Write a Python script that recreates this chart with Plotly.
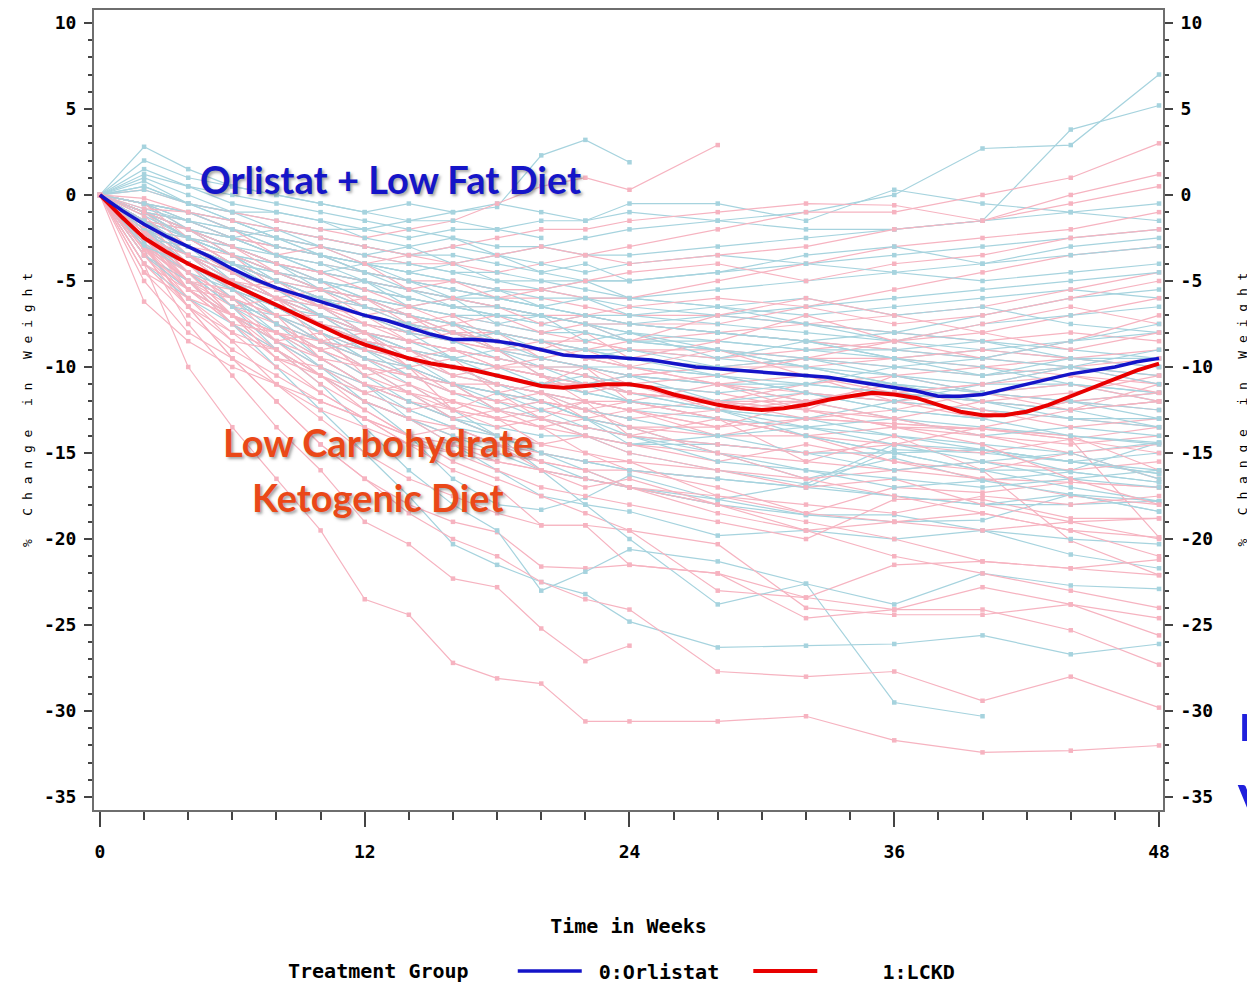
import plotly.graph_objects as go

# ---------------- data ----------------
weeks = [0, 2, 4, 6, 8, 10, 12, 14, 16, 18, 20, 22, 24, 28, 32, 36, 40, 44, 48]
N = None

# individual subjects, LCKD group (pink)
lckd_subjects = [
    [0, -4.0, -10.0, -13.5, -16.5, -19.5, -23.5, -24.4, -27.2, -28.1, -28.4, -30.6, -30.6, -30.6, -30.3, -31.7, -32.4, -32.3, -32.0],
    [0, -3.2, -7.5, -10.5, -13.5, -16.0, -19.0, -20.3, -22.3, -22.8, -25.2, -27.1, -26.2, N, N, N, N, N, N],
    [0, -2.8, -6.5, -9.5, -12.0, -14.5, -16.5, -18.0, -19.0, -19.6, -21.6, -21.7, -21.5, -22.0, -23.4, -24.1, -24.1, -25.3, -27.3],
    [0, -3.0, -6.0, -8.5, -11.0, -13.0, -15.0, -16.5, -17.5, -18.5, -19.2, -19.2, -19.5, -20.3, -24.0, -24.4, -24.4, -23.8, -24.6],
    [0, -3.0, -6.5, -9.5, -12.0, -14.5, -16.5, -18.5, -20.0, -21.0, -22.5, -23.5, -24.1, -27.7, -28.0, -27.7, -29.4, -28.0, -29.8],
    [0, -2.0, -4.5, -7.0, -9.0, -11.0, -12.5, -14.0, -15.5, -16.5, -17.5, -18.5, -19.5, -23.0, -23.4, -21.5, -21.3, -21.7, -21.2],
    [0, -2.2, -5.0, -7.5, -9.5, -11.5, -13.0, -14.5, -16.0, -17.0, -19.2, -19.2, -21.5, -22.0, -24.6, -24.1, -22.8, -23.8, -25.6],
    [0, -2.5, -4.5, -6.5, -8.5, -10.5, -12.0, -13.0, -14.5, -15.5, -16.0, -16.5, -17.0, -17.5, -18.5, -17.0, -17.3, -16.7, -17.0],
    [0, -3.5, -6.0, -8.0, -10.0, -11.5, -13.0, -14.5, -15.0, -16.0, -17.0, -17.5, -18.0, -19.0, -20.0, -17.7, -17.7, -18.8, -18.8],
    [0, -1.5, -3.5, -5.5, -7.0, -8.5, -10.0, -11.0, -12.0, -13.0, -13.5, -13.0, -13.5, -13.5, -13.0, -13.3, -13.6, -14.2, -19.9],
    [0, -2.0, -3.5, -5.0, -6.5, -8.0, -9.0, -10.0, -11.0, -11.5, -12.0, -12.5, -12.0, -13.0, -14.0, -15.5, -16.0, -20.1, -22.1],
    [0, -1.0, -2.5, -4.0, -5.0, -6.0, -7.0, -8.0, -8.5, -9.0, -9.5, -10.0, -10.5, -11.0, -11.5, -12.0, -12.5, -13.0, -13.5],
    [0, -1.5, -3.0, -4.5, -6.0, -7.0, -8.0, -9.0, -9.5, -10.0, -10.5, -11.0, -11.0, -11.5, -12.5, -13.5, -14.0, -14.5, -14.0],
    [0, -0.5, -1.5, -2.5, -3.5, -4.0, -4.5, -5.0, -5.5, -6.0, -6.0, -6.5, -7.0, -7.0, -7.5, -8.0, -8.5, -8.0, -8.5],
    [0, 0.3, -0.5, -1.0, -1.5, -2.0, -2.5, -2.0, -1.5, -0.5, 0.5, 1.0, 0.3, 2.9, N, N, N, N, N],
    [0, -1.0, -2.0, -2.5, -3.0, -3.5, -4.0, -3.5, -3.0, -2.5, -2.0, -2.0, -1.5, -1.0, -0.5, -0.6, -1.5, 0.0, 1.2],
    [0, -0.5, -1.0, -2.0, -2.5, -3.0, -3.5, -4.0, -4.0, -4.5, -4.0, -3.5, -3.0, -2.0, -1.0, -1.0, 0.0, 1.0, 3.0],
    [0, -2.0, -4.0, -5.5, -7.0, -8.0, -9.0, -9.5, -10.0, -10.5, -11.0, -11.0, -11.5, -12.0, -12.0, -11.5, -12.0, -12.5, -12.0],
    [0, -2.5, -4.5, -6.0, -7.5, -9.0, -10.5, -11.5, -12.5, -13.0, -13.5, -14.0, -14.5, -15.0, -15.5, -16.0, -15.5, -16.0, -15.5],
    [0, -3.0, -5.0, -7.0, -8.5, -10.0, -11.0, -12.0, -12.5, -13.0, -12.5, -12.0, -12.5, -12.0, -11.0, -10.5, -10.0, -9.5, -9.0],
    [0, -1.5, -2.5, -3.5, -4.5, -5.5, -6.0, -6.5, -7.0, -7.5, -8.0, -8.5, -9.0, -9.5, -9.0, -8.5, -8.0, -7.0, -6.0],
    [0, -2.0, -3.0, -4.0, -5.0, -6.0, -6.5, -7.5, -8.0, -8.0, -8.5, -9.0, -8.5, -8.0, -7.5, -7.0, -6.5, -5.5, -4.5],
    [0, -1.0, -2.0, -3.0, -4.0, -5.0, -5.5, -6.0, -6.5, -6.5, -7.0, -7.0, -7.5, -7.5, -6.5, -5.5, -4.5, -3.5, -3.0],
    [0, -3.0, -5.5, -7.5, -9.0, -10.5, -12.0, -13.0, -14.0, -14.5, -15.0, -15.5, -15.5, -16.0, -16.5, -16.0, -16.5, -16.7, -17.0],
    [0, -2.0, -3.5, -5.0, -6.0, -7.0, -8.0, -8.5, -9.0, -9.5, -10.0, -10.0, -10.5, -10.0, -10.0, -9.5, -10.0, -10.5, -11.0],
    [0, -1.5, -3.0, -4.5, -5.5, -6.5, -7.5, -8.0, -8.5, -9.0, -9.0, -9.5, -9.5, -10.0, N, N, N, N, N],
    [0, -4.5, -7.0, -9.0, -10.5, -12.0, -13.0, -14.0, -15.0, N, N, N, N, N, N, N, N, N, N],
    [0, -6.2, -8.5, -10.0, -11.0, -12.5, -13.5, -14.5, -15.0, -15.5, -16.0, -16.5, -17.0, -18.0, -19.0, -20.0, -21.3, -21.7, -22.1],
    [0, -3.5, -5.5, -7.0, -8.0, -9.0, -10.0, -10.5, -11.0, -11.0, -11.5, -12.0, -12.0, -13.0, -14.0, -13.5, -13.6, -14.2, -13.5],
    [0, -1.0, -1.5, -2.5, -3.0, -3.5, -4.5, -5.0, -5.0, -5.5, -5.5, -6.0, -6.0, -5.0, -4.0, -3.0, -2.5, -2.0, -1.0],
    [0, -2.0, -4.0, -6.0, -7.5, -8.5, -9.5, -10.5, -11.5, -12.0, -12.5, -13.0, -13.5, -14.0, -14.0, -14.5, -15.0, -14.2, -15.0],
    [0, -2.5, -4.0, -5.5, -6.5, -7.5, -8.5, -9.0, -9.5, -10.0, -10.0, -10.5, -11.0, -12.0, -13.0, -13.3, -13.6, -14.0, -16.0],
    [0, -1.5, -3.5, -5.0, -6.5, -7.5, -8.5, -9.5, -10.0, -10.5, -11.0, -11.0, -10.5, -10.0, -9.5, -10.0, -10.5, -10.0, -10.5],
    [0, -3.0, -5.0, -6.5, -7.5, -8.5, -9.5, -10.0, -11.0, -11.5, -12.0, -12.5, -13.0, N, N, N, N, N, N],
    [0, -0.5, -2.0, -3.0, -4.0, -4.5, -5.0, -5.5, -6.0, -6.5, -7.0, -7.5, -7.5, -8.0, -8.5, -9.0, -9.5, -10.0, -11.0],
    [0, -2.5, -5.0, -7.0, -8.5, -9.5, -11.0, -12.0, -13.0, -14.0, -14.5, -15.0, -16.0, -17.0, -18.5, -19.0, -19.5, -19.0, -18.8],
    [0, -5.0, -8.0, -9.5, -11.0, -12.0, -13.0, -14.0, -14.5, -15.0, -15.5, -16.0, -16.0, -16.5, N, N, N, N, N],
    [0, -1.0, -2.5, -4.0, -5.0, -5.5, -6.5, -7.0, -7.5, -8.0, -8.5, -8.5, -9.0, -9.0, -9.5, -9.5, -9.0, -9.5, -10.0],
    [0, -2.0, -3.5, -4.5, -5.5, -6.5, -7.0, -7.5, -8.0, N, N, N, N, N, N, N, N, N, N],
    [0, -1.5, -3.0, -4.0, -5.0, N, N, N, N, N, N, N, N, N, N, N, N, N, N],
    [0, -2.0, -5.5, -6.0, -8.5, -8.0, -10.5, -10.0, -12.5, -11.5, -13.0, -12.0, -14.0, -13.0, -15.5, -14.0, -16.0, -15.0, -14.5],
    [0, -3.0, -4.0, -6.5, -6.0, -8.5, -8.0, -10.0, -9.5, -11.5, -11.0, -10.0, -12.0, -11.0, -12.5, -10.5, -11.5, -12.5, -11.0],
    [0, -1.0, -3.0, -3.5, -5.5, -6.5, -6.0, -7.5, -7.0, -8.5, -9.0, -8.0, -9.5, -8.5, -7.0, -8.5, -7.5, -6.5, -7.5],
    [0, -4.0, -6.5, -8.5, -9.0, -10.5, -11.5, -11.0, -12.5, -13.5, -13.0, -14.0, -14.5, -15.5, -14.5, -15.5, -16.5, -17.5, -18.0],
    [0, -2.5, -3.0, -4.5, -6.0, -5.5, -7.0, -8.5, -8.0, -9.0, -10.5, -11.5, -11.0, -12.5, -11.5, -12.0, -13.0, -12.0, -12.5],
    [0, -0.5, -2.5, -3.0, -4.5, -5.0, -6.5, -7.0, -8.5, -8.0, -9.5, -9.0, -10.0, -11.0, -10.5, -11.5, -11.0, -10.0, -9.5],
    [0, -3.5, -5.0, -5.5, -7.5, -9.0, -8.5, -10.0, -11.5, -12.0, -11.5, -13.0, -12.5, -13.5, -12.0, -11.0, -12.5, -13.5, -13.0],
    [0, -1.5, -4.0, -5.5, -5.0, -6.0, -7.5, -8.0, -7.5, -9.0, -8.5, -9.5, -10.0, -9.0, -10.5, -12.0, -11.5, -12.0, -11.5],
    [0, -2.0, -2.5, -4.0, -5.0, -6.5, -7.0, -6.5, -7.5, -7.0, -8.0, -7.5, -8.5, -7.0, -6.0, -7.0, -8.0, -9.0, -8.0],
    [0, -4.5, -6.0, -7.0, -9.5, -10.0, -11.5, -12.5, -12.0, -13.0, -14.5, -14.0, -15.0, -16.0, -17.0, -16.5, -18.0, -19.0, -20.0],
    [0, -2.8, -5.0, -6.0, -7.0, -9.5, -10.0, -11.5, -13.0, -12.5, -13.5, -15.0, -15.5, -17.5, -18.0, -18.5, -17.5, -18.0, -17.5],
    [0, -0.8, -1.0, -2.0, -3.5, -3.0, -4.0, -5.5, -5.0, -6.0, -5.5, -5.0, -4.5, -4.0, -5.0, -4.0, -3.5, -2.5, -2.0],
    [0, -1.2, -3.5, -4.5, -6.0, -7.5, -8.0, -9.5, -9.0, -10.0, -10.5, -12.0, -12.5, -14.0, -13.0, -12.5, -11.5, -11.0, -12.0],
    [0, -3.0, -4.5, -6.0, -7.0, -7.0, -8.5, -9.0, -10.5, -10.0, -9.5, -10.0, -11.0, -10.5, -9.5, -8.5, -9.5, -8.5, -7.0],
    [0, -2.0, -4.5, -7.0, -9.5, -10.5, -12.5, -14.0, -13.5, -14.5, -16.0, -17.0, -16.5, -18.0, -19.5, -21.0, -22.0, -23.0, -24.0],
    [0, -1.5, -2.0, -3.0, -4.0, -4.5, -5.5, -6.5, -6.0, -6.5, -7.5, -7.0, -6.5, -6.0, -6.5, -7.5, -7.0, -6.0, -5.0],
    [0, -2.5, -5.5, -7.5, -8.0, -9.0, -10.0, -10.5, -11.0, -12.5, -12.0, -12.5, -13.0, -12.5, -12.0, -13.0, -14.0, -15.0, -16.5],
    [0, -3.2, -5.5, -7.0, -8.0, -9.5, -11.0, -11.5, -12.0, -12.5, -13.0, -13.5, -14.0, -14.5, -15.0, -14.5, -13.5, -12.5, -12.0],
    [0, -1.8, -3.0, -4.5, -6.0, -6.5, -7.5, -8.5, -9.0, -9.5, -10.0, -10.5, -11.5, -12.0, -12.5, -13.0, -12.0, -11.5, -10.5],
    [0, -0.2, -1.0, -1.5, -2.0, -2.5, -3.0, -3.5, -4.0, -3.5, -3.0, -3.5, -4.0, -3.5, -3.0, -2.0, -1.5, -0.5, 0.5],
    [0, -2.2, -4.0, -5.0, -6.0, -7.5, -8.5, -9.0, -10.0, -11.0, -11.5, -12.5, -13.5, -15.0, -16.5, -17.5, -18.5, -19.5, -21.0],
    [0, -4.0, -5.5, -7.0, -8.0, -8.5, -9.0, -9.5, -10.5, -11.0, -11.5, -12.0, -12.5, -13.5, N, N, N, N, N],
    [0, -1.0, -2.0, -3.5, -4.5, -5.5, -6.0, -7.0, -8.0, -8.5, -9.0, -9.5, -10.0, -11.0, -12.0, -11.5, -11.0, -10.5, -11.5],
    [0, -2.5, -3.5, -5.0, -5.5, -6.5, -8.0, -8.5, -9.0, -10.0, -10.5, -11.0, -11.5, -12.0, -12.5, -13.5, -14.5, -16.5, -18.0],
    [0, -3.5, -6.5, -8.0, -9.0, -10.5, -12.0, -13.0, -13.5, -14.5, -15.5, -16.0, -17.0, -18.5, -19.5, -19.0, -18.5, -19.5, -19.9],
]

# individual subjects, Orlistat group (light blue)
orlistat_subjects = [
    [0, 2.8, 1.5, 0.5, 0.0, -0.5, -1.0, -0.5, -1.0, -0.7, 2.3, 3.2, 1.9, N, N, N, N, N, N],
    [0, -2.0, -4.0, -6.0, -8.0, -10.0, -12.0, -14.0, -16.5, -18.0, -18.3, -17.6, -16.3, -17.7, -16.8, -14.5, -14.8, -15.5, -16.2],
    [0, -2.5, -5.0, -7.5, -10.0, -12.5, -15.0, -17.5, -20.3, -21.5, -22.5, -23.2, -24.8, -26.3, -26.2, -26.1, -25.6, -26.7, -26.1],
    [0, -2.0, -4.5, -6.5, -9.0, -11.0, -13.5, -16.0, -18.0, -19.5, -23.0, -21.9, -20.6, -21.3, -22.6, -29.5, -30.3, N, N],
    [0, -1.5, -3.5, -5.5, -7.5, -9.5, -11.0, -13.0, -14.5, -16.0, -17.5, -18.0, -18.4, -19.8, -19.5, -20.0, -19.5, -20.9, -21.7],
    [0, -1.5, -3.0, -5.0, -7.0, -8.5, -10.0, -11.5, -13.0, -14.0, -15.0, -16.0, -17.0, -17.7, -18.6, -19.0, -18.9, -17.4, -17.8],
    [0, -2.0, -3.5, -5.0, -6.5, -8.0, -9.5, -11.0, -12.5, -14.0, -16.0, -18.0, -20.0, -23.8, -22.6, -23.8, -22.0, -22.7, -22.9],
    [0, -1.0, -2.5, -4.0, -5.5, -7.0, -8.0, -9.0, -10.0, -11.0, -12.0, -13.0, -14.0, -15.0, -16.5, -15.3, -16.6, -16.1, -16.7],
    [0, -1.0, -2.0, -3.0, -4.0, -5.0, -6.0, -7.0, -8.0, -9.0, -10.0, -11.0, -12.0, -13.0, -14.0, -15.0, -16.0, -16.0, -14.4],
    [0, 0.5, -0.5, -1.0, -2.0, -2.5, -3.0, -3.5, -3.0, -3.5, -3.0, -2.5, -2.0, -1.5, -1.0, 0.0, 2.7, 2.9, 7.0],
    [0, 1.5, 0.5, -0.5, -1.0, -1.5, -2.0, -2.5, -2.0, -2.0, -1.5, -1.5, -1.0, -1.5, -2.0, -2.0, -1.5, 3.8, 5.2],
    [0, 1.0, 0.0, -1.0, -1.5, -2.0, -2.0, -1.5, -1.0, -0.5, -1.0, -1.5, -0.5, -0.5, -1.5, 0.3, -0.5, -1.0, -1.5],
    [0, -0.5, -1.0, -1.5, -2.5, -3.0, -3.5, -4.0, -4.5, -5.0, -5.0, -5.5, -6.0, -6.5, -7.0, -6.5, -6.0, -5.5, -6.0],
    [0, -1.0, -2.0, -3.0, -4.0, -4.5, -5.0, -5.5, -6.0, -6.0, -6.5, -7.0, -7.5, -8.0, -8.5, -9.0, -8.5, -9.0, -9.5],
    [0, -1.5, -3.0, -4.5, -6.0, -7.0, -8.0, -9.0, -10.0, -10.5, -11.0, -11.5, -12.0, -12.5, -13.0, -14.0, -14.8, -15.5, -16.2],
    [0, -2.0, -3.5, -5.0, -6.0, -7.0, -8.0, -8.5, -9.0, -9.5, -10.0, -10.0, -10.5, -11.0, -11.0, -11.5, -12.0, -12.5, -12.0],
    [0, -0.5, -1.5, -2.0, -3.0, -3.5, -4.0, -4.5, -5.0, -5.5, -5.5, -6.0, -6.0, -5.5, -5.0, -4.5, -4.0, -3.0, -2.5],
    [0, -1.0, -2.5, -3.5, -4.5, -5.5, -6.5, -7.0, -7.5, -8.0, -8.5, -9.0, -9.0, -9.5, -10.0, -10.5, -11.0, -11.0, -11.5],
    [0, -2.5, -4.5, -6.5, -8.0, -9.5, -11.0, -12.5, -13.5, -14.5, -15.5, -16.5, -17.0, -18.0, -18.6, -18.6, -19.5, -20.0, -20.3],
    [0, -3.0, -5.0, -7.0, -8.5, -10.0, -11.5, -12.5, -13.5, -14.0, -15.0, -15.5, -16.0, -16.5, -17.0, -14.8, -15.0, -15.5, -15.0],
    [0, -0.5, -1.5, -2.5, -3.0, -3.5, -4.0, -4.0, -4.5, -4.5, -5.0, -5.0, -5.0, -4.5, -4.0, -3.5, -3.0, -2.5, -2.0],
    [0, 1.2, 0.5, 0.0, -0.5, -1.0, -1.5, -2.0, -2.5, -3.0, -3.0, -3.5, -3.5, -3.0, -2.5, -2.0, -1.5, -1.0, -0.5],
    [0, -1.5, -2.5, -3.5, -4.5, -5.5, -6.0, -6.5, -7.0, -7.5, -8.0, -8.0, -8.5, -8.5, -9.0, -9.5, -9.0, -8.5, -8.0],
    [0, -2.0, -3.0, -4.0, -5.0, -6.0, -7.0, -7.5, -8.0, -8.5, -9.0, -9.5, -10.0, -10.5, -11.5, -12.0, -12.5, -13.0, -13.5],
    [0, -1.0, -2.0, -3.5, -5.0, -6.5, -8.0, -9.5, -11.0, -12.0, -13.0, -14.0, -15.0, -16.0, -16.8, -17.5, -18.0, -17.4, -18.4],
    [0, -4.0, -6.0, -7.5, -9.0, -10.5, -12.0, -13.0, -14.0, -15.0, -16.0, -16.5, -17.0, -18.0, N, N, N, N, N],
    [0, -0.5, -1.0, -1.5, -2.0, -2.5, -3.0, -3.5, -3.5, -4.0, -4.5, -5.0, -5.0, N, N, N, N, N, N],
    [0, -1.5, -2.5, -3.5, -4.0, -4.5, -5.0, -5.5, -6.0, -6.5, -7.0, -7.5, -8.0, -9.0, -10.0, -11.0, -11.5, -11.0, -12.0],
    [0, -2.0, -3.5, -5.0, -6.5, -8.0, -9.5, -10.5, -11.5, -12.5, -13.0, -13.5, -14.0, -14.5, -15.0, -15.0, -14.8, -15.5, -16.0],
    [0, -1.0, -1.5, -2.5, -3.5, -4.0, -4.5, -5.0, -5.5, -6.0, -6.5, -7.0, -7.0, -7.5, -8.0, -8.5, -9.0, -9.5, -9.5],
    [0, -3.5, -5.5, -7.0, -8.5, -10.0, -11.0, -12.0, -13.0, -13.5, -14.0, -14.0, -14.5, -14.5, -15.0, -15.0, -14.8, -16.1, -16.7],
    [0, -1.0, -2.5, -4.0, -5.0, -6.0, -7.0, -7.5, -8.0, -9.0, -9.5, -10.0, -10.5, -11.0, -12.0, -13.0, -13.5, -14.0, -14.4],
    [0, -2.0, -3.0, -4.0, -4.5, -5.0, -5.5, -6.0, -6.5, -7.0, -7.0, -7.5, -7.5, -7.0, -6.5, -6.0, -5.5, -5.0, -4.5],
    [0, 0.5, -0.5, -1.5, -2.5, -3.5, -4.0, -4.5, -5.0, -5.5, -6.0, -6.0, -6.5, -7.0, -7.5, -8.0, -8.5, -9.5, -10.0],
    [0, -1.5, -3.0, -4.0, -5.0, -5.5, -6.0, -6.5, -7.0, -7.0, N, N, N, N, N, N, N, N, N],
    [0, -2.5, -4.0, -5.5, -7.0, -8.0, -9.0, -9.5, -10.5, -11.0, -11.5, -12.0, -12.5, -13.0, -13.5, -14.0, -14.5, -15.0, -14.4],
    [0, -1.0, -2.0, -3.0, -3.5, -4.5, -5.0, -5.5, -6.0, -6.5, -7.0, -7.5, -8.0, -8.5, -9.0, -9.0, -9.5, -10.0, -10.5],
    [0, -2.0, -4.0, -6.0, -7.5, -9.0, -10.5, -12.0, -13.0, -14.0, -15.0, -15.5, -16.0, -16.5, -17.0, -17.5, -18.0, -18.0, -17.8],
    [0, 2.0, 1.0, 0.5, 0.0, -0.5, -1.0, -1.5, -1.5, -2.0, -2.5, N, N, N, N, N, N, N, N],
    [0, -1.0, -2.0, -3.0, N, N, N, N, N, N, N, N, N, N, N, N, N, N, N],
    [0, -1.5, -2.0, -3.5, -4.0, -5.5, -5.0, -6.5, -6.0, -7.5, -7.0, -8.5, -8.0, -9.5, -8.5, -9.5, -10.5, -9.5, -10.0],
    [0, -2.5, -3.5, -4.5, -6.0, -6.5, -8.0, -8.5, -9.5, -9.0, -10.5, -11.0, -10.5, -12.0, -11.5, -12.5, -13.0, -12.0, -11.5],
    [0, -0.5, -2.0, -2.5, -3.5, -4.5, -4.0, -5.0, -6.0, -5.5, -6.5, -6.0, -7.0, -6.5, -7.5, -8.5, -7.5, -7.0, -6.5],
    [0, -3.0, -4.5, -6.5, -7.0, -8.5, -9.0, -10.5, -11.0, -12.5, -12.0, -13.0, -14.5, -14.0, -15.0, -16.0, -15.5, -16.5, -17.0],
    [0, -1.0, -1.5, -2.5, -2.0, -3.0, -3.5, -3.0, -4.0, -3.5, -4.5, -4.0, -5.0, -4.5, -3.5, -3.0, -4.0, -3.5, -3.0],
    [0, -2.0, -3.5, -4.0, -5.5, -7.0, -7.5, -8.0, -9.5, -10.0, -11.0, -10.5, -11.5, -12.5, -13.5, -13.0, -14.0, -13.5, -14.0],
    [0, 0.8, -0.5, -1.5, -2.5, -3.0, -4.0, -4.5, -4.0, -5.0, -5.5, -5.0, -6.0, -6.5, -6.0, -7.0, -6.5, -7.5, -8.0],
    [0, -1.8, -3.0, -4.5, -5.5, -6.0, -7.0, -7.5, -8.5, -8.0, -9.0, -9.5, -9.0, -10.0, -9.5, -10.5, -11.5, -12.0, -12.5],
    [0, -3.5, -5.0, -6.0, -7.5, -8.5, -9.5, -10.0, -11.0, -11.5, -12.0, -13.0, -13.5, -15.0, -16.0, -17.0, -16.6, -17.4, -18.4],
    [0, -0.8, -1.5, -2.0, -3.0, -3.5, -4.5, -5.5, -6.5, -7.0, -7.5, -8.0, -8.5, -9.0, -10.0, -11.0, -12.0, -13.0, -13.0],
    [0, -2.2, -4.0, -5.0, -6.0, -7.5, -8.5, -9.0, -9.5, -10.5, -11.0, -11.5, -12.0, -12.5, -13.0, -12.0, -11.0, -10.0, -9.0],
    [0, -1.2, -2.5, -3.0, -4.0, -5.0, -5.5, -6.0, -6.5, -7.0, -7.5, -7.0, -7.5, -8.0, -8.5, -8.0, -7.0, -6.0, -5.5],
    [0, -2.8, -4.5, -5.5, -6.5, -7.5, -8.0, -9.0, -9.5, -10.0, -10.5, -11.0, -11.5, -12.5, -14.0, -15.0, -16.0, -17.0, -17.8],
    [0, 0.3, -0.5, -1.0, -1.0, -1.5, -2.5, -3.0, -2.5, -3.5, -4.0, -4.5, -4.0, -3.5, -4.0, -4.5, -5.0, -4.5, -4.0],
    [0, -1.5, -3.5, -5.0, -6.5, -7.5, -9.0, -10.0, -11.0, -11.5, -12.5, -13.5, -14.0, -15.5, -16.0, -16.5, -17.0, -16.5, -16.0],
    [0, -2.0, -2.5, -3.5, -4.5, -5.0, -6.0, -7.0, -7.5, -8.0, -8.5, -9.0, -9.5, -10.0, -10.5, -11.0, -11.5, -12.0, -13.0],
    [0, -1.0, -2.5, -3.5, -5.0, -6.0, -7.0, -8.0, -8.5, -9.5, -10.0, -10.5, -11.0, -11.5, -11.0, -11.5, -12.0, -12.5, -13.5],
    [0, -3.0, -4.0, -5.5, -6.5, -7.0, -8.5, -9.5, -10.0, -11.0, -11.5, -12.5, -13.0, -14.0, -13.5, -14.5, -15.5, -15.0, -16.5],
    [0, -0.5, -1.0, -2.0, -2.5, -3.5, -4.5, -5.0, -5.5, -6.0, -6.5, -7.0, -7.5, -8.0, -8.5, -9.5, -10.0, -11.0, -11.5],
    [0, -1.5, -3.0, -4.0, -4.5, -5.5, -6.5, -7.5, -8.0, -8.5, -9.5, -10.0, -10.0, -10.5, -11.5, -12.5, -13.0, -14.0, -14.5],
    [0, -2.5, -3.0, -4.0, -5.0, -6.0, -6.5, -7.0, -7.5, -8.5, -9.0, -9.0, -9.5, -10.5, -11.0, -10.0, -9.5, -8.5, -7.5],
    [0, -1.0, -2.0, -2.5, -3.5, -4.0, -5.0, -6.0, -6.5, -6.5, -7.0, -7.5, -8.5, -9.0, -9.5, -10.0, -10.5, -10.0, -11.0],
]

# smoothed group means (weekly)
mean_weeks = list(range(0, 49))
mean_orlistat = [0.0, -0.9, -1.7, -2.4, -3.0, -3.6, -4.3, -4.9, -5.4, -5.8, -6.2, -6.6, -7.0,
                 -7.3, -7.7, -8.1, -8.4, -8.4, -8.5, -8.7, -9.0, -9.3, -9.4, -9.4, -9.5,
                 -9.6, -9.8, -10.0, -10.1, -10.2, -10.3, -10.4, -10.5, -10.6, -10.8, -11.0, -11.2,
                 -11.4, -11.7, -11.7, -11.6, -11.3, -11.0, -10.7, -10.4, -10.2, -10.0, -9.7, -9.5]
mean_lckd = [0.0, -1.3, -2.5, -3.3, -4.0, -4.6, -5.2, -5.8, -6.4, -7.0, -7.6, -8.2, -8.7,
             -9.1, -9.5, -9.8, -10.0, -10.2, -10.5, -10.8, -11.1, -11.2, -11.1, -11.0, -11.0,
             -11.2, -11.6, -11.9, -12.2, -12.4, -12.5, -12.4, -12.2, -11.9, -11.7, -11.5, -11.6,
             -11.8, -12.2, -12.6, -12.8, -12.8, -12.6, -12.2, -11.7, -11.2, -10.7, -10.2, -9.8]

x_ticks = [0, 12, 24, 36, 48]
y_ticks = [10, 5, 0, -5, -10, -15, -20, -25, -30, -35]
NB = "\u00a0"
group_names = [NB + "0:Orlistat" + NB * 2, NB * 5 + "1:LCKD"]

# ---------------- styling ----------------
PINK = "#F6B3C0"
LBLUE = "#A6D3DE"
MONO = "DejaVu Sans Mono"

# page body has an 8px margin: figure 1247x975 fills the 1255x983 window
W, H = 1247, 975

fig = go.Figure()

n = max(len(lckd_subjects), len(orlistat_subjects))
for i in range(n):
    if i < len(orlistat_subjects):
        fig.add_trace(go.Scatter(x=weeks, y=orlistat_subjects[i], mode="lines+markers",
                                 line=dict(color=LBLUE, width=1.2),
                                 marker=dict(color=LBLUE, size=4.5, symbol="square"),
                                 connectgaps=False, showlegend=False, hoverinfo="skip"))
    if i < len(lckd_subjects):
        fig.add_trace(go.Scatter(x=weeks, y=lckd_subjects[i], mode="lines+markers",
                                 line=dict(color=PINK, width=1.2),
                                 marker=dict(color=PINK, size=4.5, symbol="square"),
                                 connectgaps=False, showlegend=False, hoverinfo="skip"))

fig.add_trace(go.Scatter(x=mean_weeks, y=mean_lckd, mode="lines", name=group_names[1],
                         line=dict(color="#E80000", width=4), legendrank=2))
fig.add_trace(go.Scatter(x=mean_weeks, y=mean_orlistat, mode="lines", name=group_names[0],
                         line=dict(color="#1414C8", width=3.5), legendrank=1))
# right-hand mirrored axis
fig.add_trace(go.Scatter(x=[None], y=[None], yaxis="y2", showlegend=False, hoverinfo="skip"))

tick_font = dict(family=MONO, size=18, color="black", weight="bold")
axis_line = "#6E6E6E"
yaxis_common = dict(range=[-35.75, 10.75], tickvals=y_ticks, ticktext=[str(v) for v in y_ticks],
                    showgrid=False, zeroline=False, showline=True, linecolor=axis_line, linewidth=2,
                    ticks="outside", ticklen=8, tickwidth=2, tickcolor="#444",
                    minor=dict(dtick=1, tick0=0, ticks="outside", ticklen=4, tickwidth=1.5, tickcolor="#444"),
                    tickfont=tick_font, ticklabelstandoff=4)

fig.update_layout(
    width=W, height=H,
    margin=dict(l=86, r=92, t=0, b=173),
    paper_bgcolor="white", plot_bgcolor="white",
    showlegend=True,
    xaxis=dict(range=[-0.27, 48.18], tickvals=x_ticks, ticktext=[str(v) for v in x_ticks],
               showgrid=False, zeroline=False, showline=True, linecolor=axis_line, linewidth=2,
               mirror=True, ticks="outside", ticklen=15, tickwidth=2, tickcolor="#444",
               minor=dict(dtick=2, tick0=0, ticks="outside", ticklen=8, tickwidth=2, tickcolor="#444"),
               tickfont=tick_font, ticklabelstandoff=9,
               title=dict(text="Time in Weeks", font=dict(family=MONO, size=20, color="black", weight="bold"),
                          standoff=58)),
    yaxis=dict(**yaxis_common,
               title=dict(text=" ".join("% Change in Weight"),
                          font=dict(family=MONO, size=13, color="black"), standoff=8)),
    yaxis2=dict(**yaxis_common, overlaying="y", side="right"),
    legend=dict(orientation="h", xref="container", yref="container",
                x=278 / W, xanchor="left", y=1 - 963 / H, yanchor="middle",
                title=dict(text="Treatment Group" + NB * 3,
                           font=dict(family=MONO, size=20, color="black", weight="bold")),
                font=dict(family=MONO, size=20, color="black", weight="bold"),
                itemwidth=64, traceorder="normal", bgcolor="rgba(0,0,0,0)"),
)

shadow = "2px 2px 3px rgba(90,90,90,0.55)"
fig.add_annotation(x=13.17, y=0.95, xref="x", yref="y", text="Orlistat + Low Fat Diet", showarrow=False,
                   font=dict(family="Lato", size=38, color="#1515C8", weight="bold", shadow=shadow))
fig.add_annotation(x=12.6, y=-14.35, xref="x", yref="y", text="Low Carbohydrate", showarrow=False,
                   font=dict(family="Lato", size=38, color="#EA4818", weight="bold", shadow=shadow))
fig.add_annotation(x=12.6, y=-17.55, xref="x", yref="y", text="Ketogenic Diet", showarrow=False,
                   font=dict(family="Lato", size=38, color="#EA4818", weight="bold", shadow=shadow))

# right-hand page content, partly cut off by the picture's edge as in the reference
fig.add_annotation(x=(1251 - 94) / 1069, y=0.5, xref="paper", yref="paper",
                   text=" ".join("% Change in Weight"), textangle=-90, showarrow=False,
                   font=dict(family=MONO, size=13, color="black"))
fig.add_annotation(x=(1237 - 94) / 1069, y=-30.6, xref="paper", yref="y", xanchor="left", text="r",
                   showarrow=False, font=dict(family="Lato", size=52, color="#2020DC", weight="bold"))
fig.add_annotation(x=(1235 - 94) / 1069, y=-35.3, xref="paper", yref="y", xanchor="left", text="V",
                   showarrow=False, font=dict(family="Lato", size=52, color="#2020DC", weight="bold"))

fig.write_html("out.html")
